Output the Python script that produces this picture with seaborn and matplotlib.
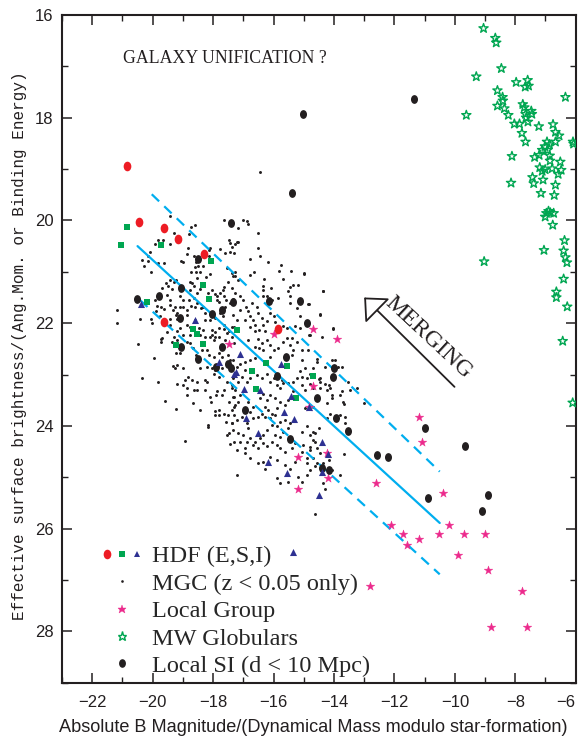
import numpy as np
import pandas as pd
import matplotlib
matplotlib.use("Agg")
import matplotlib.pyplot as plt
import seaborn as sns
from matplotlib.lines import Line2D
from matplotlib.legend_handler import HandlerTuple
from matplotlib.path import Path
from matplotlib.transforms import Affine2D
from matplotlib.ticker import MultipleLocator

# ---------------- data: (absolute B magnitude, effective surface brightness) ----------------
hdf_e_mag = [-20.85, -20.44, -19.61, -19.16, -18.29, -19.62, -15.84]
hdf_e_sb = [18.94, 20.03, 20.15, 20.36, 20.65, 21.97, 22.12]

hdf_s_mag = [-20.86, -21.05, -19.71, -18.08, -18.33, -18.15, -20.20, -18.65, -18.52,
             -19.23, -18.32, -17.20, -16.25, -16.70, -15.54, -14.69, -16.59, -15.24]
hdf_s_sb = [20.13, 20.47, 20.47, 20.78, 21.26, 21.53, 21.59, 22.12, 22.21,
            22.43, 22.41, 22.13, 22.78, 22.93, 22.84, 23.02, 23.28, 23.46]

hdf_i_mag = [-20.40, -18.61, -17.79, -17.30, -17.12, -15.75, -17.25, -16.97, -16.45,
             -15.41, -14.82, -15.66, -16.91, -15.31, -16.53, -14.39, -14.20, -16.17,
             -15.56, -14.38, -14.50, -15.37]
hdf_i_sb = [21.63, 21.93, 22.75, 22.98, 22.60, 22.80, 22.96, 23.29, 23.30,
            23.41, 23.63, 23.72, 23.84, 23.86, 24.13, 24.31, 24.54, 24.71,
            24.91, 24.89, 25.35, 26.45]

local_group_mag = [-16.00, -17.49, -14.70, -13.89, -14.70, -14.82, -15.19, -14.22, -14.20,
                   -15.19, -12.60, -11.20, -11.09, -10.39, -12.11, -11.70, -11.59, -11.20,
                   -10.51, -10.19, -9.71, -8.99, -9.90, -8.90, -7.79, -8.79, -7.60, -12.81]
local_group_sb = [22.22, 22.41, 22.11, 22.31, 23.22, 23.63, 24.60, 24.52, 25.02,
                  25.23, 25.11, 23.82, 24.32, 25.31, 25.92, 26.11, 26.31, 26.21,
                  26.11, 25.92, 26.11, 26.11, 26.52, 26.81, 27.22, 27.91, 27.91, 27.11]

globular_mag = [-9.05, -8.66, -8.63, -8.46, -9.29, -7.97, -7.59, -7.67, -7.56, -8.59,
                -8.42, -8.41, -6.34, -8.59, -8.36, -7.75, -7.70, -9.62, -8.23, -7.66,
                -7.47, -7.45, -7.64, -7.58, -8.03, -7.86, -7.22, -6.75, -7.78, -6.67,
                -6.55, -7.66, -6.67, -6.95, -6.87, -6.09, -6.07, -7.02, -7.11, -6.93,
                -8.11, -7.36, -7.21, -6.86, -6.85, -6.51, -7.19, -7.11, -7.01, -6.78,
                -6.48, -6.58, -7.43, -7.08, -7.39, -8.14, -6.67, -7.15, -6.71, -6.90,
                -6.97, -6.73, -6.84, -7.01, -6.76, -6.37, -7.05, -6.40, -6.34, -6.29,
                -9.03, -6.40, -6.64, -6.64, -6.28, -6.43, -6.10]
globular_sb = [16.26, 16.45, 16.54, 17.04, 17.20, 17.31, 17.27, 17.40, 17.38, 17.47,
               17.60, 17.67, 17.60, 17.77, 17.82, 17.74, 17.80, 17.95, 17.95, 17.93,
               17.87, 17.93, 18.00, 18.08, 18.12, 18.12, 18.17, 18.13, 18.30, 18.28,
               18.35, 18.47, 18.47, 18.47, 18.52, 18.47, 18.51, 18.56, 18.63, 18.63,
               18.75, 18.77, 18.73, 18.74, 18.84, 18.86, 18.97, 19.04, 19.01, 18.99,
               19.02, 19.10, 19.16, 19.21, 19.28, 19.27, 19.31, 19.47, 19.51, 19.82,
               19.86, 19.86, 19.85, 19.93, 20.09, 20.39, 20.58, 20.59, 20.72, 20.82,
               20.80, 21.14, 21.39, 21.50, 21.68, 22.35, 23.55]

local_si_mag = [-15.02, -11.35, -15.39, -17.40, -18.49, -19.07, -19.79, -20.51, -17.33,
                -17.71, -18.02, -19.11, -16.14, -15.12, -14.88, -19.06, -18.50, -17.70,
                -17.92, -17.51, -17.40, -15.59, -15.89, -14.55, -13.92, -13.55, -14.00,
                -14.02, -16.93, -15.47, -12.58, -14.39, -14.15, -12.22, -11.00, -9.67,
                -10.89, -8.89, -9.10]
local_si_sb = [17.92, 17.63, 19.47, 20.04, 20.75, 21.31, 21.47, 21.52, 21.59,
               21.74, 21.83, 21.89, 21.56, 21.56, 22.00, 22.46, 22.69, 22.46,
               22.86, 22.80, 22.88, 22.65, 23.02, 23.46, 23.84, 24.09, 22.87,
               23.05, 23.69, 24.26, 24.57, 24.82, 24.85, 24.60, 24.04, 24.40,
               25.41, 25.35, 25.66]

mgc_points = [
    (-19.44, 19.91), (-18.74, 20.12), (-18.59, 20.09), (-17.63, 20.00), (-18.80, 20.27),
    (-19.28, 20.24), (-19.92, 20.46), (-19.42, 20.46), (-19.66, 20.39), (-20.08, 20.61),
    (-20.17, 20.70), (-20.36, 20.77), (-20.14, 20.78), (-20.30, 20.88), (-20.05, 21.00),
    (-19.81, 20.83), (-19.61, 20.83), (-18.84, 20.54), (-18.87, 20.66), (-19.07, 20.79),
    (-18.98, 20.81), (-18.63, 20.70), (-18.56, 20.81), (-18.59, 20.90), (-18.50, 20.89),
    (-18.32, 20.89), (-18.72, 21.01), (-18.56, 21.01), (-18.43, 21.00), (-18.12, 20.57),
    (-18.13, 20.69), (-18.10, 20.79), (-17.76, 20.56), (-17.60, 20.64), (-17.43, 20.44),
    (-17.43, 20.61), (-17.32, 20.64), (-17.54, 20.93), (-17.38, 21.03), (-17.29, 21.09),
    (-18.10, 21.04), (-18.23, 21.11), (-18.52, 21.13), (-18.76, 21.20), (-18.70, 21.22),
    (-18.63, 21.27), (-19.44, 21.16), (-19.55, 21.22), (-19.22, 21.16), (-19.31, 21.19),
    (-19.48, 21.27), (-19.35, 21.33), (-18.76, 21.35), (-18.43, 21.34), (-18.54, 21.42),
    (-18.18, 21.42), (-18.04, 21.35), (-17.93, 21.44), (-17.88, 21.48), (-17.76, 21.42),
    (-17.63, 21.48), (-17.63, 21.30), (-17.52, 21.19), (-17.68, 21.35), (-17.88, 21.55),
    (-17.79, 21.58), (-17.57, 21.55), (-17.43, 21.60), (-17.60, 21.69), (-17.76, 21.81),
    (-17.68, 21.87), (-17.93, 21.90), (-18.10, 21.94), (-18.26, 21.94), (-18.40, 21.71),
    (-18.52, 21.60), (-18.72, 21.66), (-18.85, 21.74), (-18.87, 21.84), (-19.00, 21.68),
    (-19.11, 21.68), (-19.25, 21.68), (-19.42, 21.55), (-19.42, 21.64), (-19.62, 21.73),
    (-19.73, 21.69), (-19.86, 21.66), (-19.90, 21.76), (-19.33, 21.74), (-19.20, 21.81),
    (-19.22, 21.84), (-19.18, 21.92), (-19.42, 21.92), (-19.75, 21.87), (-20.06, 21.92),
    (-20.03, 22.00), (-20.41, 21.92), (-21.19, 21.74), (-21.19, 22.00), (-19.92, 21.55),
    (-19.70, 21.32), (-19.53, 21.45), (-19.09, 21.48), (-19.00, 21.55), (-18.81, 21.55),
    (-18.63, 21.51), (-18.59, 21.69), (-18.32, 21.68), (-18.26, 21.81), (-18.59, 21.94),
    (-18.76, 22.07), (-18.87, 22.03), (-19.11, 22.10), (-19.20, 22.16), (-19.31, 22.26),
    (-19.53, 22.18), (-19.70, 22.29), (-19.42, 22.03), (-18.04, 22.13), (-17.93, 22.18),
    (-17.82, 22.10), (-17.65, 22.03), (-17.63, 22.12), (-17.54, 22.20), (-17.79, 22.26),
    (-17.46, 22.16), (-17.32, 22.07), (-18.32, 22.13), (-18.43, 22.23), (-18.26, 22.27),
    (-18.10, 22.27), (-18.04, 22.23), (-18.76, 22.23), (-18.98, 22.23), (-18.48, 22.10),
    (-17.00, 19.99), (-16.85, 20.07), (-17.16, 20.15), (-16.53, 20.24), (-17.20, 20.41),
    (-17.27, 20.46), (-17.38, 20.51), (-16.53, 20.53), (-16.78, 20.76), (-16.45, 20.70),
    (-16.17, 20.80), (-15.76, 20.87), (-15.81, 20.98), (-15.42, 20.98), (-14.99, 21.03),
    (-16.65, 21.01), (-16.78, 21.06), (-17.27, 21.00), (-17.33, 21.09), (-17.16, 21.16),
    (-17.38, 21.32), (-16.30, 21.14), (-16.34, 21.27), (-15.67, 21.14), (-15.34, 21.25),
    (-15.45, 21.30), (-15.51, 21.37), (-15.18, 21.25), (-16.09, 21.32), (-16.34, 21.35),
    (-16.36, 21.48), (-15.84, 21.51), (-16.06, 21.55), (-16.20, 21.48), (-15.45, 21.48),
    (-15.45, 21.61), (-15.23, 21.71), (-15.12, 21.86), (-14.85, 21.62), (-14.35, 21.37),
    (-14.46, 21.84), (-17.27, 21.42), (-17.33, 21.53), (-17.11, 21.48), (-17.00, 21.55),
    (-16.91, 21.68), (-16.83, 21.77), (-16.72, 21.61), (-16.56, 21.68), (-16.50, 21.81),
    (-16.67, 21.94), (-16.78, 21.87), (-16.94, 21.94), (-16.39, 21.90), (-16.12, 21.81),
    (-16.00, 21.87), (-16.23, 21.95), (-16.34, 22.03), (-16.61, 22.03), (-16.78, 22.07),
    (-16.61, 22.16), (-16.47, 22.13), (-16.28, 22.16), (-15.95, 21.97), (-15.67, 22.05),
    (-15.56, 22.10), (-15.29, 22.05), (-15.12, 22.10), (-14.02, 22.10), (-14.40, 22.26),
    (-14.79, 22.23), (-15.40, 22.29), (-17.33, 21.84), (-17.22, 21.94), (-17.11, 21.74),
    (-17.38, 22.07),
    (-20.47, 22.41), (-19.72, 22.31), (-19.72, 22.37), (-19.37, 22.36), (-19.20, 22.33),
    (-18.87, 22.36), (-18.76, 22.39), (-17.98, 22.33), (-17.93, 22.26), (-17.60, 22.33),
    (-17.38, 22.26), (-17.32, 22.39), (-19.22, 22.59), (-19.09, 22.59), (-18.65, 22.49),
    (-18.56, 22.62), (-18.37, 22.52), (-18.21, 22.52), (-18.15, 22.62), (-17.98, 22.65),
    (-17.82, 22.59), (-17.71, 22.65), (-17.52, 22.62), (-17.43, 22.72), (-19.97, 22.67),
    (-19.33, 22.83), (-19.25, 22.87), (-19.18, 22.81), (-18.98, 22.88), (-18.82, 23.04),
    (-18.92, 23.11), (-18.70, 23.11), (-18.98, 23.20), (-19.18, 23.19), (-18.85, 23.27),
    (-18.87, 23.40), (-19.81, 23.14), (-20.36, 23.06), (-19.59, 23.52), (-19.22, 23.67),
    (-18.63, 23.30), (-18.54, 23.30), (-18.65, 23.56), (-18.43, 23.69), (-18.26, 23.30),
    (-18.21, 23.14), (-18.10, 23.43), (-18.07, 23.53), (-17.98, 22.99), (-17.82, 23.04),
    (-17.90, 23.40), (-17.71, 23.39), (-17.87, 23.33), (-17.63, 23.30), (-17.54, 23.14),
    (-17.49, 23.53), (-17.38, 23.27), (-17.32, 23.43), (-17.30, 23.63), (-17.95, 23.71),
    (-17.82, 23.79), (-17.93, 23.79), (-17.79, 23.69), (-17.65, 23.76), (-17.52, 23.79),
    (-17.32, 23.79), (-17.57, 23.92), (-17.38, 23.95), (-18.18, 23.98), (-18.17, 24.03),
    (-17.54, 24.18), (-17.46, 24.14), (-17.43, 24.36), (-17.32, 24.31), (-18.92, 24.29),
    (-18.52, 23.14), (-18.26, 23.11), (-18.21, 22.85), (-18.04, 22.88), (-18.43, 22.88),
    (-17.93, 22.91), (-17.71, 22.88),
    (-16.83, 22.33), (-16.50, 22.31), (-16.39, 22.39), (-16.23, 22.33), (-16.61, 22.46),
    (-16.47, 22.49), (-16.34, 22.52), (-16.12, 22.42), (-16.00, 22.52), (-15.84, 22.49),
    (-15.67, 22.36), (-15.56, 22.29), (-15.45, 22.42), (-15.34, 22.52), (-15.23, 22.36),
    (-15.07, 22.52), (-15.40, 22.62), (-16.12, 22.65), (-16.61, 22.68), (-16.78, 22.72),
    (-16.94, 22.75), (-17.11, 22.80), (-17.22, 22.85), (-17.33, 22.72), (-16.94, 22.91),
    (-17.05, 23.04), (-17.33, 23.07), (-17.16, 23.14), (-17.38, 23.20), (-17.27, 23.30),
    (-17.33, 23.43), (-17.11, 23.40), (-17.16, 23.53), (-17.27, 23.59), (-17.38, 23.69),
    (-16.89, 23.14), (-16.78, 23.07), (-16.56, 23.01), (-16.39, 23.07), (-16.23, 22.98),
    (-16.12, 23.14), (-16.00, 23.07), (-15.89, 23.20), (-15.78, 23.27), (-15.67, 23.17),
    (-15.73, 23.11), (-15.51, 23.17), (-15.34, 23.14), (-15.23, 23.07), (-15.12, 22.94),
    (-14.96, 22.88), (-15.07, 23.20), (-14.96, 23.30), (-15.34, 23.33), (-15.51, 23.50),
    (-15.62, 23.59), (-15.78, 23.53), (-15.95, 23.46), (-16.12, 23.40), (-16.23, 23.50),
    (-16.34, 23.37), (-16.45, 23.46), (-16.28, 23.63), (-16.17, 23.69), (-16.06, 23.76),
    (-15.89, 23.66), (-15.95, 23.79), (-16.12, 23.85), (-16.28, 23.82), (-16.39, 23.76),
    (-16.50, 23.82), (-16.67, 23.63), (-16.83, 23.53), (-16.78, 23.72), (-16.67, 23.85),
    (-16.89, 23.95), (-17.05, 23.82), (-17.22, 23.88), (-17.38, 23.95), (-17.33, 24.08),
    (-17.16, 24.14), (-17.00, 24.18), (-16.83, 24.05), (-16.78, 24.24), (-16.61, 24.31),
    (-16.45, 24.24), (-16.34, 24.18), (-16.23, 24.08), (-16.06, 23.98), (-15.89, 24.01),
    (-15.78, 23.92), (-15.62, 23.88), (-15.45, 23.95), (-15.51, 24.05), (-15.67, 24.11),
    (-15.78, 24.21), (-15.95, 24.18), (-16.06, 24.31), (-16.23, 24.40), (-16.34, 24.34),
    (-16.50, 24.44), (-16.67, 24.37), (-16.89, 24.31), (-16.94, 24.44), (-17.11, 24.31),
    (-17.22, 24.47), (-15.89, 24.37), (-15.78, 24.44), (-15.62, 24.50), (-15.40, 24.44),
    (-15.29, 24.34), (-15.07, 24.11), (-14.90, 24.01), (-14.79, 24.18), (-14.68, 24.11),
    (-14.51, 24.05), (-14.62, 24.31), (-15.01, 24.37), (-14.79, 24.47), (-14.57, 24.44),
    (-14.46, 24.53), (-14.68, 24.63), (-14.90, 24.63), (-15.29, 24.70), (-15.45, 24.83),
    (-15.62, 24.76), (-15.89, 24.66), (-16.12, 24.60), (-16.34, 24.70), (-16.50, 24.73),
    (-16.28, 24.83), (-15.89, 25.02), (-15.78, 25.12), (-15.51, 25.09), (-15.18, 24.99),
    (-15.07, 25.09), (-14.90, 24.96), (-14.79, 24.86), (-14.62, 24.79), (-14.35, 24.73),
    (-14.18, 24.66), (-14.07, 24.86), (-13.80, 24.96), (-14.24, 23.85), (-14.13, 23.76),
    (-14.24, 23.56), (-14.18, 23.20), (-14.46, 23.27), (-14.46, 23.14), (-14.68, 23.27),
    (-14.07, 23.46), (-13.80, 23.40), (-13.74, 23.33), (-13.69, 23.53), (-13.47, 23.30),
    (-13.25, 23.27), (-13.02, 23.56), (-13.63, 23.82), (-13.63, 23.95), (-13.80, 23.79),
    (-14.46, 23.07), (-14.90, 23.07), (-14.79, 22.98), (-13.96, 22.72), (-14.29, 22.85),
    (-13.74, 22.85), (-15.07, 22.72), (-14.85, 22.52), (-14.68, 22.88), (-14.57, 22.75),
    (-17.22, 24.96), (-16.94, 24.53), (-16.78, 24.63),
    (-14.99, 21.05), (-14.35, 21.37), (-14.84, 21.62), (-14.46, 21.83), (-14.02, 22.11),
    (-14.84, 22.23), (-14.57, 22.69), (-14.07, 22.72), (-13.85, 22.85), (-15.06, 23.05),
    (-14.79, 23.18), (-14.51, 23.08), (-14.29, 23.18), (-14.24, 23.31), (-14.13, 23.27),
    (-14.07, 23.40), (-13.68, 23.58), (-13.52, 23.14), (-14.68, 23.63), (-14.95, 23.66),
    (-14.62, 24.14), (-14.70, 24.28), (-15.06, 24.51), (-14.79, 24.41), (-14.90, 24.73),
    (-14.57, 24.73), (-14.35, 25.12), (-14.29, 25.22), (-14.62, 25.71), (-13.68, 24.55),
    (-16.44, 19.06), (-18.10, 20.54), (-17.48, 20.38), (-17.18, 20.41), (-16.88, 20.02),
    (-19.83, 20.39),
]
mgc_mag = [p[0] for p in mgc_points]
mgc_sb = [p[1] for p in mgc_points]

# fitted relation and its envelope
fit_mag = [-20.50, -10.50]
fit_sb = [20.50, 25.89]
upper_mag = [-20.03, -10.50]
upper_sb = [19.49, 24.89]
lower_mag = [-20.42, -10.50]
lower_sb = [21.55, 26.89]

legend_labels = ["HDF (E,S,I)", "MGC (z < 0.05 only)", "Local Group",
                 "MW Globulars", "Local SI (d < 10 Mpc)"]

# ---------------- style ----------------
RED = "#ed1c24"
GREEN = "#00a651"
NAVY = "#2e3192"
PINK = "#ec2a8c"
CYAN = "#00aeef"
INK = "#231f20"

sns.set_style("ticks")
plt.rcParams["font.family"] = ["Liberation Sans", "DejaVu Sans"]
SERIF = ["Liberation Serif", "DejaVu Serif"]
MONO = ["Liberation Mono", "DejaVu Sans Mono"]

oval = Path.unit_circle().transformed(Affine2D().scale(0.8, 1.0))

fig = plt.figure(figsize=(5.82, 7.42), dpi=100)
ax = fig.add_axes([0.10653, 0.07992, 0.88265, 0.89986])

# MGC galaxies
sns.scatterplot(x=mgc_mag, y=mgc_sb, ax=ax, marker="o", s=4.5, color=INK,
                linewidth=0, legend=False, zorder=2)

# relation lines
sns.lineplot(x=fit_mag, y=fit_sb, ax=ax, color=CYAN, lw=1.6, zorder=3)
for xm, ym in ((upper_mag, upper_sb), (lower_mag, lower_sb)):
    sns.lineplot(x=xm, y=ym, ax=ax, color=CYAN, lw=1.6, zorder=3,
                 linestyle=(0, (4.6, 3.2)))

# MW globular clusters (open stars)
sns.scatterplot(x=globular_mag, y=globular_sb, ax=ax, marker="*", s=48,
                color=GREEN, legend=False, zorder=4)
ax.collections[-1].set_facecolor("none")
ax.collections[-1].set_edgecolor(GREEN)
ax.collections[-1].set_linewidth(1.0)

sns.scatterplot(x=local_group_mag, y=local_group_sb, ax=ax, marker="*", s=42,
                color=PINK, edgecolor=PINK, linewidth=0.3, legend=False, zorder=5)
sns.scatterplot(x=local_si_mag, y=local_si_sb, ax=ax, marker=oval, s=40,
                color=INK, linewidth=0, legend=False, zorder=5)
sns.scatterplot(x=hdf_e_mag, y=hdf_e_sb, ax=ax, marker=oval, s=48,
                color=RED, linewidth=0, legend=False, zorder=6)
sns.scatterplot(x=hdf_s_mag, y=hdf_s_sb, ax=ax, marker="s", s=22,
                color=GREEN, linewidth=0, legend=False, zorder=6)
sns.scatterplot(x=hdf_i_mag, y=hdf_i_sb, ax=ax, marker="^", s=26,
                color=NAVY, linewidth=0, legend=False, zorder=6)

# axes
ax.set_xlim(-23, -6)
ax.set_ylim(29, 16)
ax.set_xticks(np.arange(-22, -5, 2))
ax.set_yticks(np.arange(16, 29, 2))
ax.xaxis.set_minor_locator(MultipleLocator(1))
ax.yaxis.set_minor_locator(MultipleLocator(1))
ax.tick_params(which="both", direction="in", top=True, right=True, color=INK)
ax.tick_params(which="major", length=7, width=1.1, labelsize=12, colors=INK)
ax.tick_params(which="minor", length=4, width=1.0)
ax.tick_params(axis="x", pad=9)
ax.tick_params(axis="y", pad=6)
for sp in ax.spines.values():
    sp.set_linewidth(1.5)
    sp.set_color(INK)
fig.canvas.draw()
ax.get_xticklabels()[-1].set_horizontalalignment("right")

ax.set_xlabel("Absolute B Magnitude/(Dynamical Mass modulo star-formation)",
              fontsize=13.1, color=INK)
ax.xaxis.set_label_coords(0.49, -0.054)
ax.set_ylabel("Effective surface brightness/(Ang.Mom. or Binding Energy)",
              fontsize=11.5, family=MONO, color=INK)
ax.yaxis.set_label_coords(-0.068, 0.505)

ax.text(-20.98, 16.84, "GALAXY UNIFICATION ?", ha="left", va="center",
        fontsize=12.8, family=SERIF, color=INK)

# merging arrow
ax.annotate("", xy=(-13.0, 21.5), xytext=(-10.01, 23.24),
            arrowprops=dict(arrowstyle="-|>,head_length=1.2,head_width=1.1",
                            mutation_scale=10, lw=1.3, ec=INK, fc="white",
                            shrinkA=0, shrinkB=0))
ax.text(-10.87, 22.28, "MERGING", rotation=-43, rotation_mode="anchor",
        ha="center", va="center", fontsize=17, family=SERIF, color=INK)

# legend
h_e = Line2D([], [], ls="none", marker=oval, ms=6.9, mfc=RED, mec=RED, mew=0)
h_s = Line2D([], [], ls="none", marker="s", ms=4.6, mfc=GREEN, mec=GREEN, mew=0)
h_i = Line2D([], [], ls="none", marker="^", ms=4.8, mfc=NAVY, mec=NAVY, mew=0)
h_mgc = Line2D([], [], ls="none", marker="o", ms=1.9, mfc=INK, mec=INK, mew=0)
h_lg = Line2D([], [], ls="none", marker="*", ms=6.4, mfc=PINK, mec=PINK, mew=0.3)
h_gc = Line2D([], [], ls="none", marker="*", ms=6.8, mfc="none", mec=GREEN, mew=1.0)
h_si = Line2D([], [], ls="none", marker=oval, ms=6.2, mfc=INK, mec=INK, mew=0)
ax.legend([(h_e, h_s, h_i), h_mgc, h_lg, h_gc, h_si], legend_labels,
          loc="upper left", bbox_to_anchor=(0.0734, 0.2055), frameon=False,
          prop={"family": SERIF, "size": 17.5}, handlelength=1.84,
          handletextpad=0.3, borderpad=0, borderaxespad=0, labelspacing=0.22,
          numpoints=1, handler_map={tuple: HandlerTuple(ndivide=None, pad=0)})

fig.savefig("out.png", dpi=100)
